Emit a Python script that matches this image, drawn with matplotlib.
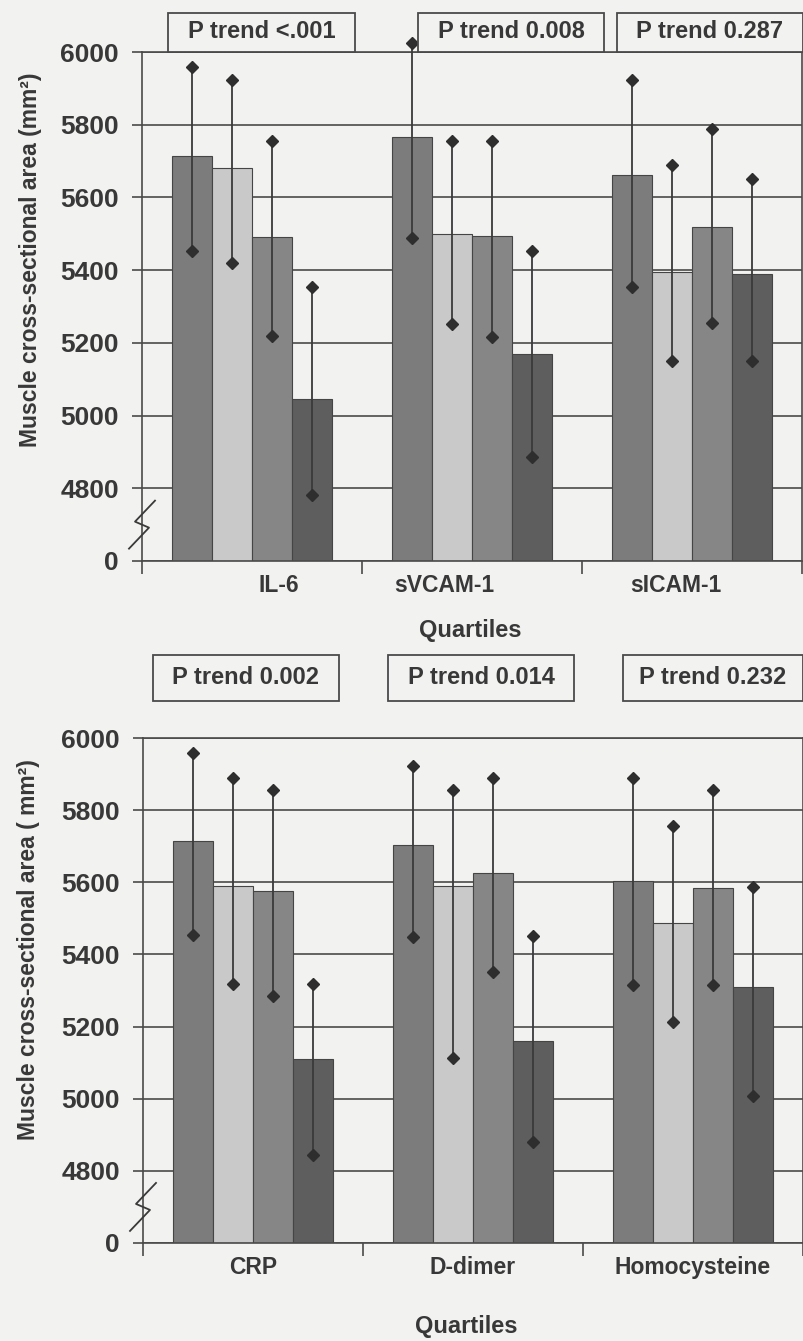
import numpy as np
import matplotlib
matplotlib.use("Agg")
import matplotlib.pyplot as plt
from matplotlib.patches import Rectangle
from matplotlib.transforms import offset_copy

# === DATA ===
top_groups = ["IL-6", "sVCAM-1", "sICAM-1"]
top_ptrend = ["P trend <.001", "P trend 0.008", "P trend 0.287"]
top_mean = [[5715, 5680, 5490, 5045],
            [5765, 5500, 5495, 5170],
            [5662, 5395, 5518, 5390]]
top_lower = [[5452, 5419, 5219, 4781],
             [5488, 5252, 5216, 4885],
             [5353, 5150, 5255, 5150]]
top_upper = [[5960, 5923, 5756, 5353],
             [6025, 5756, 5756, 5452],
             [5923, 5688, 5789, 5652]]

bot_groups = ["CRP", "D-dimer", "Homocysteine"]
bot_ptrend = ["P trend 0.002", "P trend 0.014", "P trend 0.232"]
bot_mean = [[5715, 5589, 5575, 5110],
            [5702, 5589, 5625, 5161],
            [5603, 5487, 5583, 5310]]
bot_lower = [[5454, 5319, 5285, 4844],
             [5448, 5112, 5352, 4880],
             [5316, 5214, 5316, 5007]]
bot_upper = [[5959, 5890, 5857, 5319],
             [5923, 5857, 5890, 5451],
             [5890, 5755, 5857, 5586]]

y_ticks = [4600, 4800, 5000, 5200, 5400, 5600, 5800, 6000]
y_ticklabels = ["0", "4800", "5000", "5200", "5400", "5600", "5800", "6000"]

# === STYLE ===
W, H = 804, 1341
BG = "#f2f2f0"
INK = "#383838"
QUARTILE_COLORS = ["#7c7c7c", "#c9c9c9", "#868686", "#5e5e5e"]
BAR_W = 0.182
FLOOR = 4600  # axis floor shown as "0" below the break

plt.rcParams["font.family"] = ["Liberation Sans", "DejaVu Sans"]
plt.rcParams["font.weight"] = "bold"
plt.rcParams["text.color"] = INK


def fx(px):
    return px / W


def fy(py):
    return 1 - py / H


def draw_panel(fig, rect, groups, means, lower, upper, ylabel, label_shift):
    ax = fig.add_axes(rect)
    ax.set_facecolor(BG)
    ax.set_xlim(0, 3)
    ax.set_ylim(FLOOR, 6000)
    ax.set_axisbelow(True)

    for g in range(len(groups)):
        for q in range(4):
            x = g + 0.5 + (q - 1.5) * BAR_W
            m = means[g][q]
            ax.bar(x, m - FLOOR, bottom=FLOOR, width=BAR_W,
                   color=QUARTILE_COLORS[q], edgecolor="#454545", linewidth=0.8)
            ax.vlines(x, lower[g][q], upper[g][q], color="#3a3a3a",
                      linewidth=1.3, zorder=3, clip_on=False)
            ax.plot([x, x], [lower[g][q], upper[g][q]], linestyle="none",
                    marker="D", markersize=6.5, color="#2e2e2e",
                    zorder=4, clip_on=False)

    # grid and axes
    ax.set_yticks(y_ticks)
    ax.set_yticklabels(y_ticklabels, fontsize=19, color=INK)
    ax.yaxis.grid(True, color="#4a4a4a", linewidth=1.2)
    ax.tick_params(axis="y", direction="out", length=7.5, width=1.2,
                   color="#4a4a4a", pad=9)

    ax.set_xticks([0, 1, 2, 3], minor=True)
    ax.tick_params(axis="x", which="minor", direction="out", length=9,
                   width=1.2, color="#4a4a4a")
    ax.set_xticks([])
    for g, name in enumerate(groups):
        tr = offset_copy(ax.get_xaxis_transform(), fig=fig,
                         x=label_shift[g], y=-13, units="dots")
        ax.text(g + 0.5, 0, name, transform=tr, ha="center", va="top",
                fontsize=16.5, color=INK)

    for s in ax.spines.values():
        s.set_color("#4a4a4a")
        s.set_linewidth(1.2)

    # axis break mark between 0 and 4800
    yb = (4700 - FLOOR) / (6000 - FLOOR)
    pw, ph = rect[2] * W, rect[3] * H
    zx = np.array([-13, 7, -7, 13]) / pw
    zy = yb + np.array([-24, -3, 3, 24]) / ph
    ax.plot(zx, zy, transform=ax.transAxes, color="#3a3a3a",
            linewidth=1.3, clip_on=False, zorder=5)
    return ax


fig = plt.figure(figsize=(W / 100, H / 100), dpi=100, facecolor=BG)

top_rect = [fx(142), fy(561), fx(802) - fx(142), fy(52) - fy(561)]
bot_rect = [fx(143), fy(1243), fx(803) - fx(143), fy(738) - fy(1243)]

draw_panel(fig, top_rect, top_groups, top_mean, top_lower, top_upper,
           "Muscle cross-sectional area (mm²)", [27, -28, -16])
draw_panel(fig, bot_rect, bot_groups, bot_mean, bot_lower, bot_upper,
           "Muscle cross-sectional area ( mm²)", [0, 0, 0])

# y labels
fig.text(fx(31), fy(260), "Muscle cross-sectional area (mm²)", rotation=90,
         ha="center", va="center", fontsize=16.5, color=INK)
fig.text(fx(29), fy(950), "Muscle cross-sectional area ( mm²)", rotation=90,
         ha="center", va="center", fontsize=16.5, color=INK)

# x labels
fig.text(fx(470), fy(630), "Quartiles", ha="center", va="center",
         fontsize=17, color=INK)
fig.text(fx(466), fy(1327), "Quartiles", ha="center", va="center",
         fontsize=17, color=INK)

# P trend boxes
top_boxes = [(168, 355), (418, 604), (617, 803)]
bot_boxes = [(153, 339), (388, 574), (623, 803)]
for (x0, x1), txt in zip(top_boxes, top_ptrend):
    fig.add_artist(Rectangle((fx(x0), fy(52)), fx(x1) - fx(x0), fy(13) - fy(52),
                             transform=fig.transFigure, facecolor=BG,
                             edgecolor="#4a4a4a", linewidth=1.3))
    fig.text(fx((x0 + x1) / 2), fy(32), txt, ha="center", va="center",
             fontsize=17, color=INK)
for (x0, x1), txt in zip(bot_boxes, bot_ptrend):
    fig.add_artist(Rectangle((fx(x0), fy(701)), fx(x1) - fx(x0), fy(655) - fy(701),
                             transform=fig.transFigure, facecolor=BG,
                             edgecolor="#4a4a4a", linewidth=1.3))
    fig.text(fx((x0 + x1) / 2), fy(678), txt, ha="center", va="center",
             fontsize=17, color=INK)

fig.savefig("out.png", dpi=100, facecolor=BG)
